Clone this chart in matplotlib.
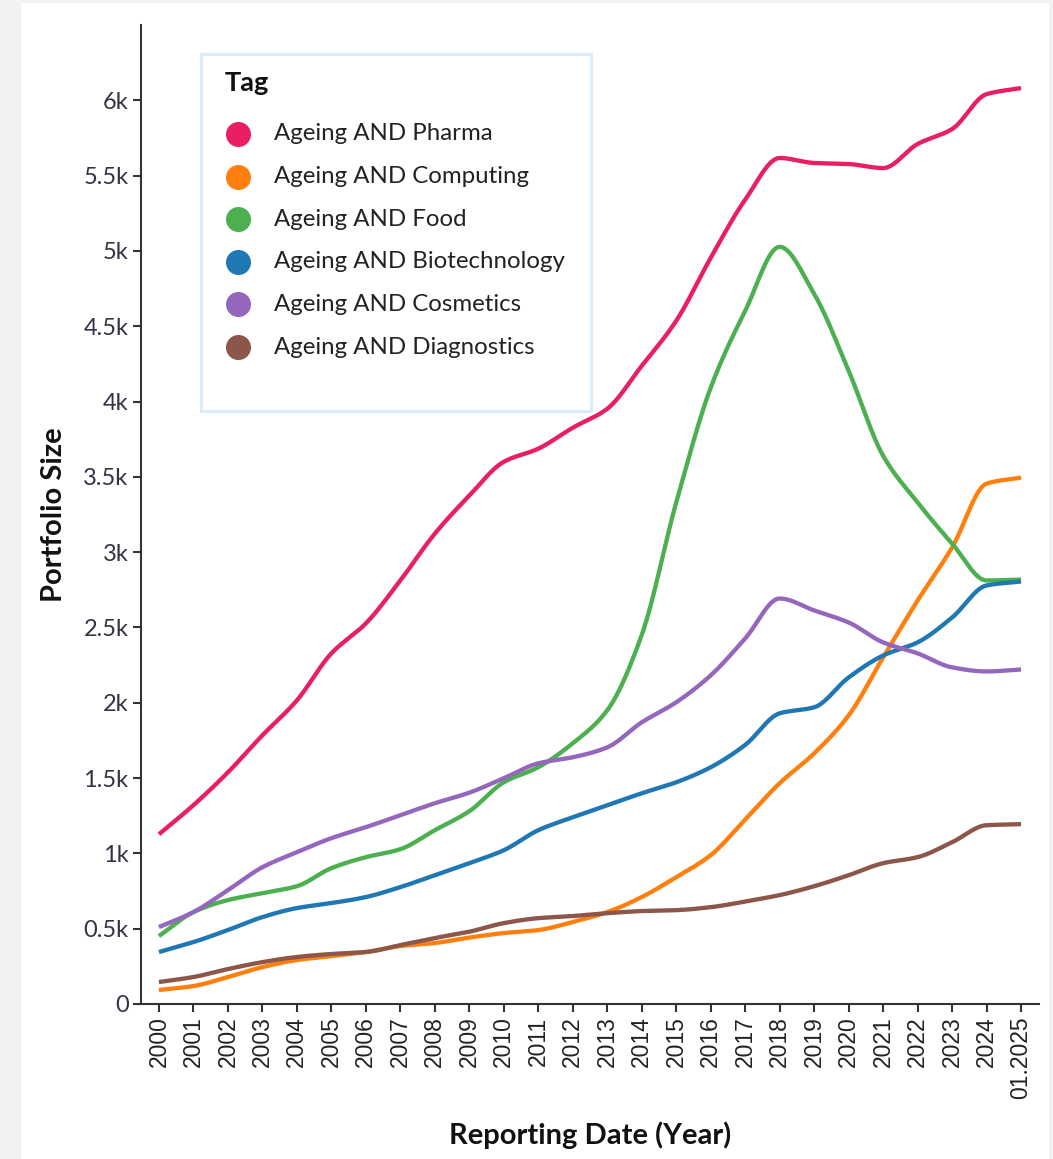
import numpy as np
import matplotlib.pyplot as plt
from matplotlib.lines import Line2D
from matplotlib.patches import Rectangle
from matplotlib.ticker import FuncFormatter

# ==========================
# Data
# ==========================
years = list(range(2000, 2026))
x_labels = [str(y) for y in range(2000, 2025)] + ["01.2025"]

pharma = [1127, 1320, 1538, 1784, 2016, 2328, 2527, 2812, 3123, 3375,
          3600, 3687, 3826, 3952, 4237, 4536, 4954, 5340, 5617, 5584,
          5577, 5550, 5710, 5809, 6041, 6081]
computing = [93, 119, 179, 245, 292, 318, 345, 385, 405, 441,
             471, 491, 544, 610, 710, 842, 988, 1225, 1466, 1664,
             1916, 2301, 2679, 3031, 3455, 3495]
food = [451, 610, 690, 736, 782, 902, 975, 1028, 1154, 1280,
        1472, 1572, 1731, 1950, 2450, 3330, 4092, 4602, 5027, 4715,
        4204, 3640, 3330, 3057, 2812, 2818]
biotech = [345, 411, 491, 577, 637, 670, 710, 776, 855, 935,
           1021, 1154, 1240, 1320, 1399, 1472, 1572, 1720, 1930, 1970,
           2168, 2314, 2401, 2566, 2779, 2805]
cosmetics = [511, 610, 756, 908, 1008, 1101, 1174, 1253, 1333, 1403,
             1499, 1598, 1638, 1704, 1870, 2003, 2182, 2427, 2692, 2613,
             2533, 2401, 2328, 2235, 2208, 2221]
diagnostics = [146, 179, 232, 278, 312, 332, 345, 391, 438, 480,
               537, 570, 584, 603, 617, 623, 643, 680, 723, 782,
               855, 935, 975, 1074, 1187, 1194]

series_names = ["Ageing AND Pharma", "Ageing AND Computing", "Ageing AND Food",
                "Ageing AND Biotechnology", "Ageing AND Cosmetics",
                "Ageing AND Diagnostics"]
series_vals = [pharma, computing, food, biotech, cosmetics, diagnostics]
colors = ["#e91e63", "#ff7f0e", "#4caf50", "#1f77b4", "#9467bd", "#8c564b"]


# ==========================
# Utility: monotone cubic curve (like d3 curveMonotoneX)
# ==========================
def monotone_curve(x, y, n=20):
    x = np.asarray(x, float)
    y = np.asarray(y, float)
    h = np.diff(x)
    delta = np.diff(y) / h
    m = np.zeros_like(y)
    for k in range(1, len(y) - 1):
        if delta[k - 1] * delta[k] > 0:
            w1 = 2 * h[k] + h[k - 1]
            w2 = h[k] + 2 * h[k - 1]
            m[k] = (w1 + w2) / (w1 / delta[k - 1] + w2 / delta[k])
    m[0] = delta[0]
    m[-1] = delta[-1]
    xs, ys = [], []
    for k in range(len(h)):
        t = np.linspace(0, 1, n, endpoint=False)
        h00 = 2 * t**3 - 3 * t**2 + 1
        h10 = t**3 - 2 * t**2 + t
        h01 = -2 * t**3 + 3 * t**2
        h11 = t**3 - t**2
        xs.append(x[k] + t * h[k])
        ys.append(h00 * y[k] + h10 * h[k] * m[k] + h01 * y[k + 1] + h11 * h[k] * m[k + 1])
    xs.append([x[-1]])
    ys.append([y[-1]])
    return np.concatenate(xs), np.concatenate(ys)


# ==========================
# Plot
# ==========================
W, H = 1053, 1159
fig = plt.figure(figsize=(W / 100, H / 100), dpi=100, facecolor="#f2f2f2")

# white panel (behind the axes)
fig.patches.append(Rectangle((21 / W, 0), (1049 - 21) / W, 1 - 3 / H,
                             transform=fig.transFigure, facecolor="white",
                             edgecolor="none", zorder=-5))

ax = fig.add_axes([141 / W, 1 - 1004 / H, (1039 - 141) / W, (1004 - 25) / H])
ax.set_facecolor("none")

for vals, col in zip(series_vals, colors):
    cx, cy = monotone_curve(years, vals)
    ax.plot(cx, cy, color=col, lw=3.1, solid_capstyle="butt", zorder=3)

ax.set_xlim(1999.48, 2025.52)
ax.set_ylim(0, 6500)

for s in ["top", "right"]:
    ax.spines[s].set_visible(False)
for s in ["left", "bottom"]:
    ax.spines[s].set_color("#333333")
    ax.spines[s].set_linewidth(1.5)

ax.set_xticks(years)
ax.set_xticklabels(x_labels, rotation=90, fontsize=16.5,
                   family="Liberation Sans", color="#222222")
ax.set_yticks(np.arange(0, 6001, 500))
ax.yaxis.set_major_formatter(FuncFormatter(
    lambda v, p: "0" if v == 0 else f"{v / 1000:g}k"))
for lab in ax.get_yticklabels():
    lab.set_family("Lato")
    lab.set_fontsize(17)
    lab.set_color("#333344")
ax.tick_params(axis="both", length=6, width=1.5, color="#333333", pad=3)

ax.set_ylabel("Portfolio Size", family="Lato", fontweight="bold",
              fontsize=21, color="#111111", labelpad=12)
ax.set_xlabel("Reporting Date (Year)", family="Lato", fontweight="bold",
              fontsize=21, color="#111111", labelpad=16)

# ==========================
# Legend (drawn by hand in figure pixels)
# ==========================
fig.patches.append(Rectangle((201 / W, 1 - 411 / H), (591 - 201) / W, (411 - 54) / H,
                             transform=fig.transFigure, facecolor="white",
                             edgecolor="#d8ecfb", lw=2, zorder=5))
fig.text(225 / W, 1 - 83 / H, "Tag", family="Lato", fontweight="bold",
         fontsize=19.5, color="#111111", va="center", ha="left", zorder=6)
row_y = 134
for name, col in zip(series_names, colors):
    fig.add_artist(Line2D([238 / W], [1 - row_y / H], transform=fig.transFigure,
                          ls="none", marker="o", markersize=17,
                          markerfacecolor=col, markeredgecolor=col, zorder=6))
    fig.text(274 / W, 1 - row_y / H, name, family="Lato", fontsize=17.3,
             color="#222222", va="center", ha="left", zorder=6)
    row_y += 42.6

fig.savefig("out.png", dpi=100, facecolor=fig.get_facecolor())
